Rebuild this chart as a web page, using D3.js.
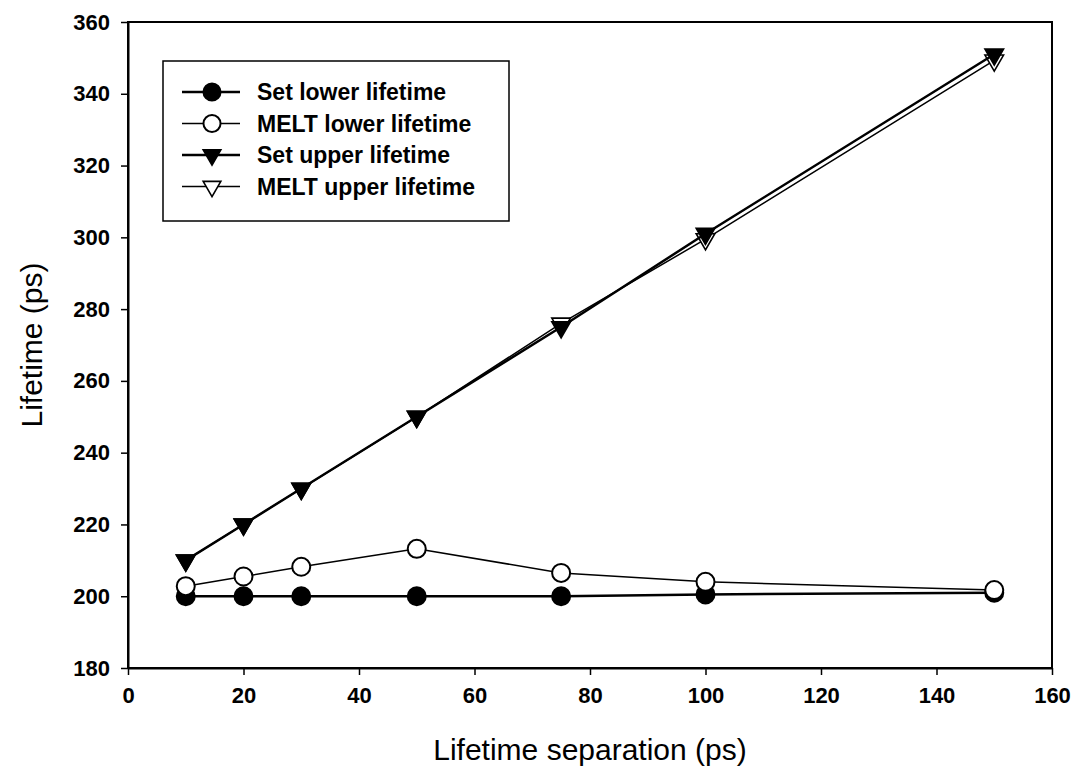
<!DOCTYPE html>
<html><head><meta charset="utf-8">
<script src="https://cdn.jsdelivr.net/npm/d3@7"></script>
<style>body{margin:0;background:#fff}</style>
</head><body>
<svg id="c" width="1086" height="782"></svg>
<script>
const xValues = [10, 20, 30, 50, 75, 100, 150];
const setLower = [200, 200, 200, 200, 200, 200.5, 201];
const meltLower = [202.8, 205.5, 208.2, 213.2, 206.5, 204, 201.7];
const setUpper = [210, 220, 230, 250, 275, 301, 351];
const meltUpper = [210, 220, 230, 250, 276, 299.5, 349.3];
const xTicks = [0, 20, 40, 60, 80, 100, 120, 140, 160];
const yTicks = [180, 200, 220, 240, 260, 280, 300, 320, 340, 360];
const seriesNames = ["Set lower lifetime", "MELT lower lifetime", "Set upper lifetime", "MELT upper lifetime"];

const series = [
  {name: seriesNames[0], values: setLower, marker: "circle", fill: "#000", sw: 2.5, order: 0},
  {name: seriesNames[1], values: meltLower, marker: "circle", fill: "#fff", sw: 1.5, order: 1},
  {name: seriesNames[2], values: setUpper, marker: "tri", fill: "#000", sw: 2.5, order: 3},
  {name: seriesNames[3], values: meltUpper, marker: "tri", fill: "#fff", sw: 1.5, order: 2}
];

const svg = d3.select("#c");
const L = 128, R = 1052, T = 22, B = 668;
const x = d3.scaleLinear().domain([0, 160]).range([L, R]);
const y = d3.scaleLinear().domain([180, 360]).range([B, T]);
const font = "'Liberation Sans', Arial, sans-serif";

svg.append("rect").attr("x", L).attr("y", T).attr("width", R - L).attr("height", B - T)
  .attr("fill", "none").attr("stroke", "#000").attr("stroke-width", 2);

const xa = svg.append("g").attr("transform", `translate(0,${B})`)
  .call(d3.axisBottom(x).tickValues(xTicks).tickSize(7).tickSizeOuter(0).tickPadding(12));
const ya = svg.append("g").attr("transform", `translate(${L},0)`)
  .call(d3.axisLeft(y).tickValues(yTicks).tickSize(7).tickSizeOuter(0).tickPadding(11));
[xa, ya].forEach(a => {
  a.select(".domain").attr("stroke-width", 2);
  a.selectAll(".tick line").attr("stroke-width", 1.5);
  a.selectAll("text").attr("font-family", font).attr("font-size", 22)
    .attr("font-weight", "bold").attr("fill", "#000");
});

svg.append("text").attr("x", (L + R) / 2).attr("y", 760).attr("text-anchor", "middle")
  .attr("font-family", font).attr("font-size", 30).text("Lifetime separation (ps)");
svg.append("text").attr("transform", `translate(42,${(T + B) / 2}) rotate(-90)`)
  .attr("text-anchor", "middle").attr("font-family", font).attr("font-size", 30).text("Lifetime (ps)");

function drawMarker(g, s, cx, cy, scale) {
  if (s.marker === "circle") {
    g.append("circle").attr("cx", cx).attr("cy", cy).attr("r", 9 * scale)
      .attr("fill", s.fill).attr("stroke", "#000").attr("stroke-width", 2);
  } else {
    g.append("path").attr("d", d3.symbol().type(d3.symbolTriangle).size(150 * scale * scale)())
      .attr("transform", `translate(${cx},${cy}) rotate(180)`)
      .attr("fill", s.fill).attr("stroke", "#000").attr("stroke-width", 1.6);
  }
}

const line = d3.line().x(d => x(d[0])).y(d => y(d[1]));
series.slice().sort((a, b) => a.order - b.order).forEach(s => {
  const pts = xValues.map((v, i) => [v, s.values[i]]);
  const g = svg.append("g");
  g.append("path").attr("d", line(pts)).attr("fill", "none")
    .attr("stroke", "#000").attr("stroke-width", s.sw);
  pts.forEach(p => drawMarker(g, s, x(p[0]), y(p[1]), 1));
});

const lg = svg.append("g");
lg.append("rect").attr("x", 163).attr("y", 61).attr("width", 346).attr("height", 160)
  .attr("fill", "#fff").attr("stroke", "#000").attr("stroke-width", 1.5);
series.forEach((s, i) => {
  const cy = 92 + i * 31.5;
  lg.append("line").attr("x1", 182).attr("x2", 240).attr("y1", cy).attr("y2", cy)
    .attr("stroke", "#000").attr("stroke-width", s.sw);
  drawMarker(lg, s, 212, cy, 0.95);
  lg.append("text").attr("x", 257).attr("y", cy + 8).attr("font-family", font)
    .attr("font-size", 23).attr("font-weight", "bold").text(s.name);
});
</script>
</body></html>
